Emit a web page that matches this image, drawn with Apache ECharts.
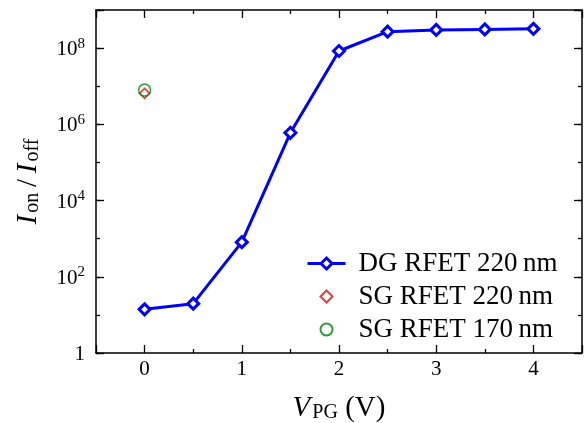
<!DOCTYPE html>
<html><head><meta charset="utf-8">
<script src="https://cdn.jsdelivr.net/npm/echarts@6/dist/echarts.min.js"></script>
<style>html,body{margin:0;padding:0;background:#fff}#c{width:584px;height:423px}</style>
</head><body><div id="c"></div>
<script>
const vpg = [0, 0.5, 1, 1.5, 2, 2.5, 3, 3.5, 4];
const dgRfet220 = [14, 19.7, 810, 6.0e5, 8.4e7, 2.7e8, 3.0e8, 3.1e8, 3.2e8];
const sgRfet220 = [[0, 6.5e6]];
const sgRfet170 = [[0, 7.9e6]];
const seriesNames = ['DG RFET 220\u2009nm', 'SG RFET 220\u2009nm', 'SG RFET 170\u2009nm'];

const FONT = 'Liberation Serif';
const chart = echarts.init(document.getElementById('c'), null, {renderer: 'canvas'});

function yLabel(v) {
  const e = Math.round(Math.log10(v));
  if (e % 2 !== 0) return '';
  if (e === 0) return '{b|1}';
  return '{b|10}{s|' + e + '}';
}
const axisLineStyle = {color: '#000', width: 1.5};
const tickStyle = {color: '#000', width: 1.3};
const baseY = {
  type: 'log', logBase: 10, min: 1, max: 1e9,
  splitLine: {show: false},
  axisLine: {show: true, onZero: false, lineStyle: axisLineStyle},
};
const baseX = {
  type: 'value', min: -0.5, max: 4.5, splitNumber: 5,
  splitLine: {show: false},
  axisLine: {show: true, onZero: false, lineStyle: axisLineStyle},
};
const nameRich = {
  i: {fontFamily: FONT, fontStyle: 'italic', fontSize: 29, color: '#000', verticalAlign: 'bottom', lineHeight: 30},
  sub: {fontFamily: FONT, fontSize: 20, color: '#000', verticalAlign: 'bottom', lineHeight: 25, padding: [0, 0, 0, 2]},
  n: {fontFamily: FONT, fontSize: 29, color: '#000', verticalAlign: 'bottom', lineHeight: 30}
};

chart.setOption({
  backgroundColor: '#fff',
  animation: false,
  grid: {left: 96, top: 10, right: 2, bottom: 70, containLabel: false, outerBoundsMode: 'none'},
  xAxis: [
    Object.assign({}, baseX, {
      position: 'bottom',
      axisTick: {show: true, inside: true, length: 8, lineStyle: tickStyle},
      minorTick: {show: true, splitNumber: 2, length: 4, lineStyle: tickStyle},
      axisLabel: {show: true, margin: 6, fontFamily: FONT, fontSize: 21, color: '#000',
        formatter: v => (Math.abs(v - Math.round(v)) < 1e-9 && v >= 0 && v <= 4) ? String(v) : ''},
      name: '{i|V}{sub|PG}{n| (V)}', nameLocation: 'middle', nameGap: 40,
      nameTextStyle: {color: '#000', rich: nameRich}
    }),
    Object.assign({}, baseX, {
      position: 'top',
      axisTick: {show: true, inside: true, length: 8, lineStyle: tickStyle},
      minorTick: {show: true, splitNumber: 2, length: 4, lineStyle: tickStyle},
      axisLabel: {show: false}
    })
  ],
  yAxis: [
    Object.assign({}, baseY, {
      position: 'left',
      axisTick: {show: true, inside: true, length: 4, lineStyle: tickStyle},
      axisLabel: {show: true, margin: 11, formatter: yLabel, color: '#000',
        rich: {
          b: {fontFamily: FONT, fontSize: 21, color: '#000', lineHeight: 24, verticalAlign: 'bottom'},
          s: {fontFamily: FONT, fontSize: 15, color: '#000', lineHeight: 15, verticalAlign: 'top'}
        }},
      name: '{i|I}{sub|on}{n|\u2009/\u2009}{i|I}{sub|off}', nameLocation: 'middle', nameGap: 53,
      nameTextStyle: {color: '#000', rich: nameRich}
    }),
    Object.assign({}, baseY, {
      position: 'left', interval: 2, axisLine: {show: false, onZero: false},
      axisTick: {show: true, inside: true, length: 8, lineStyle: tickStyle},
      axisLabel: {show: false}
    }),
    Object.assign({}, baseY, {
      position: 'right',
      axisTick: {show: true, inside: true, length: 4, lineStyle: tickStyle},
      axisLabel: {show: false}
    }),
    Object.assign({}, baseY, {
      position: 'right', interval: 2, axisLine: {show: false, onZero: false},
      axisTick: {show: true, inside: true, length: 8, lineStyle: tickStyle},
      axisLabel: {show: false}
    })
  ],
  legend: {
    orient: 'vertical', left: 301, top: 245, itemWidth: 38, itemHeight: 13, itemGap: 6,
    textStyle: {fontFamily: FONT, fontSize: 27, color: '#000', lineHeight: 27, padding: [0, 0, 0, 8]},
    data: [
      {name: seriesNames[0], icon: 'path://M0,0M38,13M0,6.5L13.5,6.5M24.5,6.5L38,6.5M13.5,6.5L19,1L24.5,6.5L19,12Z',
        itemStyle: {color: '#fff', borderColor: '#0000ff', borderWidth: 3}},
      {name: seriesNames[1], icon: 'path://M0,0M38,13M13,6.5L19,0.5L25,6.5L19,12.5Z'},
      {name: seriesNames[2], icon: 'path://M0,0M38,13M25,6.5A6,6 0 1 1 13,6.5A6,6 0 1 1 25,6.5Z'}
    ]
  },
  series: [
    {
      name: seriesNames[0], type: 'line', xAxisIndex: 0, yAxisIndex: 0,
      data: vpg.map((x, i) => [x, dgRfet220[i]]),
      symbol: 'diamond', symbolSize: 11, showAllSymbol: true,
      lineStyle: {color: '#0000ff', width: 3},
      itemStyle: {color: '#fff', borderColor: '#0000ff', borderWidth: 3},
      z: 3
    },
    {
      name: seriesNames[1], type: 'scatter', xAxisIndex: 0, yAxisIndex: 0,
      data: sgRfet220, symbol: 'diamond', symbolSize: 10,
      itemStyle: {color: 'rgba(0,0,0,0)', borderColor: '#ff0000', borderWidth: 1.5},
      z: 4
    },
    {
      name: seriesNames[2], type: 'scatter', xAxisIndex: 0, yAxisIndex: 0,
      data: sgRfet170, symbol: 'circle', symbolSize: 12,
      itemStyle: {color: 'rgba(0,0,0,0)', borderColor: '#008000', borderWidth: 1.5},
      z: 4
    }
  ]
});
</script></body></html>
